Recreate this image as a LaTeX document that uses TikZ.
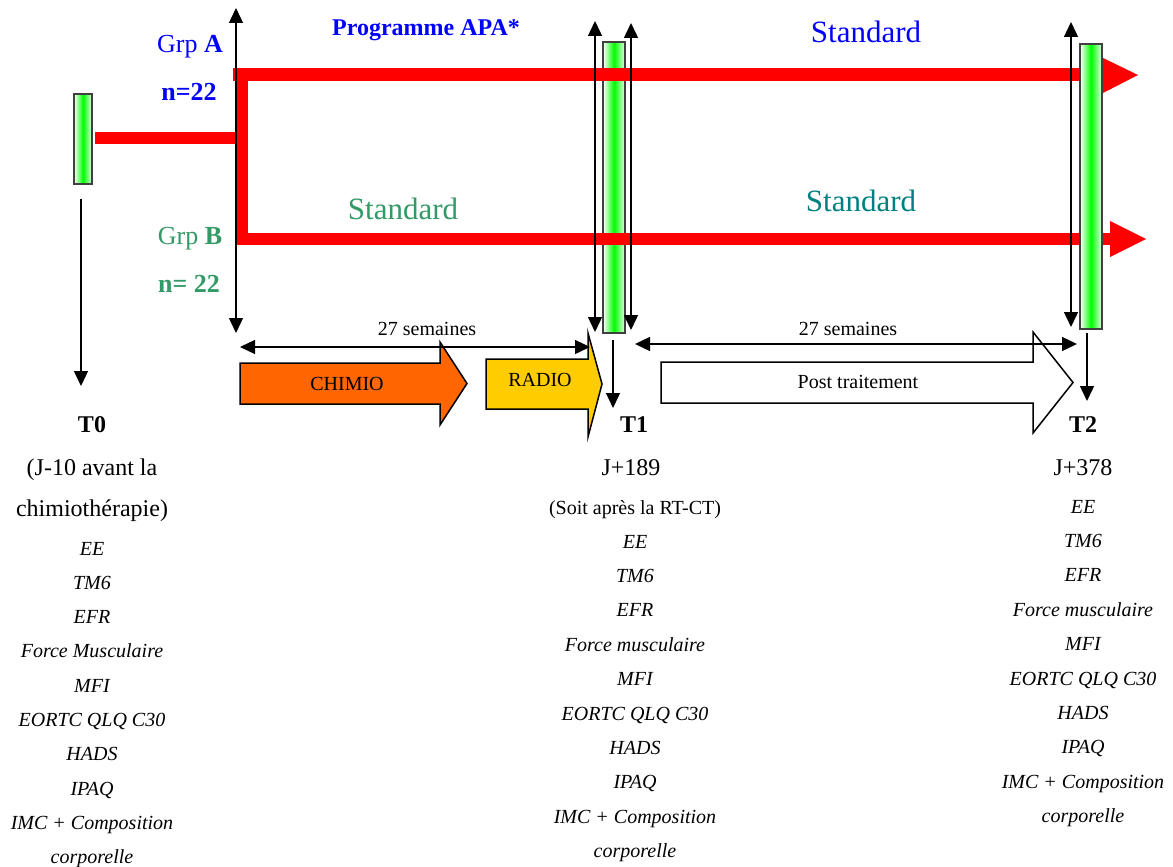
\documentclass[tikz,border=0pt]{standalone}
\usepackage{fontspec}
\setmainfont{Liberation Serif}
\usetikzlibrary{arrows.meta}
\definecolor{grpblue}{HTML}{0000FF}
\definecolor{grpgreen}{HTML}{339966}
\definecolor{tealc}{HTML}{008080}
\definecolor{chimio}{HTML}{FF6600}
\definecolor{radio}{HTML}{FFCC00}
\tikzset{
  every node/.style={inner sep=0pt, outer sep=0pt},
  tip/.tip={Triangle[length=15pt,width=14pt]},
  bar/.style={draw=black!75, line width=1.3pt, left color=white, right color=green!10, middle color=green},
  dbl/.style={line width=1.4pt, tip-tip},
  down/.style={line width=1.4pt, -tip},
  redln/.style={fill=red},
  blk/.style={draw=black, line width=1.5pt},
  item/.style={anchor=base, font=\fontsize{20}{24}\selectfont\itshape},
  head/.style={anchor=base, font=\fontsize{24}{28}\selectfont\bfseries},
  sub/.style={anchor=base, font=\fontsize{24}{28}\selectfont},
  small/.style={anchor=base, font=\fontsize{20}{24}\selectfont},
  std/.style={anchor=base, font=\fontsize{31}{36}\selectfont},
  grp/.style={anchor=base, font=\fontsize{26}{30}\selectfont},
}
\begin{document}
\begin{tikzpicture}[x=1pt,y=-1pt]
\useasboundingbox (0,0) rectangle (1173,867);
\fill[white] (0,0) rectangle (1173,867);

% T1 bar (under red lines)
\node[bar, minimum width=22pt, minimum height=291pt] (b1) at (614,187.5) {};

% red lines
\node[redln, minimum width=140pt, minimum height=12pt] (r0) at (165,138) {};
\fill[red] (235,68) rectangle (248,245);
\fill[red] (233,68.5) rectangle (1104,81.5);
\fill[red] (1103,58) -- (1138,75) -- (1103,93) -- cycle;
\fill[red] (235,233) rectangle (1111,245);
\fill[red] (1110,221) -- (1146,239) -- (1110,257) -- cycle;

% T0 and T2 bars
\node[bar, minimum width=18pt, minimum height=90pt] (b0) at (83,139) {};
\node[bar, minimum width=22pt, minimum height=285pt] (b2) at (1091,186.5) {};

% vertical axes
\coordinate (aT) at (236,8); \coordinate (aB) at (236,333);
\draw[dbl] (aT) -- (aB);
\coordinate (t1aT) at (595,21); \coordinate (t1aB) at (595,332);
\draw[dbl] (t1aT) -- (t1aB);
\coordinate (t1bT) at (631,23); \coordinate (t1bB) at (631,330);
\draw[dbl] (t1bT) -- (t1bB);
\coordinate (t2aT) at (1071,22); \coordinate (t2aB) at (1071,327);
\draw[dbl] (t2aT) -- (t2aB);

% down arrows
\coordinate (d0a) at (81,199); \coordinate (d0b) at (81,386);
\draw[down] (d0a) -- (d0b);
\coordinate (d1a) at (613,340); \coordinate (d1b) at (613,408);
\draw[down] (d1a) -- (d1b);
\coordinate (d2a) at (1087,333); \coordinate (d2b) at (1087,401);
\draw[down] (d2a) -- (d2b);

% block arrows
\draw[blk, fill=chimio] (240,363) -- (440,363) -- (440,342) -- (467,383.5) -- (440,425) -- (440,404) -- (240,404) -- cycle;
\node[small] (chimio) at (347,390) {CHIMIO};
\draw[blk, fill=radio] (486,359) -- (588,359) -- (588,333) -- (602,384) -- (588,437) -- (588,409) -- (486,409) -- cycle;
\node[small] (radio) at (540,386) {RADIO};
\draw[blk, fill=white] (661,362) -- (1033,362) -- (1033,332) -- (1073,382.5) -- (1033,433) -- (1033,403) -- (661,403) -- cycle;
\node[small] (post) at (858,388) {Post traitement};

% 27 semaines
\coordinate (s1a) at (240,347); \coordinate (s1b) at (590,347);
\draw[dbl, line width=1.3pt] (s1a) -- (s1b);
\node[small] (s1) at (427,335) {27 semaines};
\coordinate (s2a) at (635,344); \coordinate (s2b) at (1077,344);
\draw[dbl, line width=1.3pt] (s2a) -- (s2b);
\node[small] (s2) at (848,335) {27 semaines};

% top labels
\node[anchor=base, font=\fontsize{24}{28}\selectfont\bfseries, text=grpblue] (apa) at (426,36) {Programme APA*};
\node[std, text=grpblue] (stdA) at (866,43) {Standard};
\node[grp, text=grpblue] (grpA) at (190,53) {Grp \textbf{A}};
\node[grp, text=grpblue, font=\fontsize{26}{30}\selectfont\bfseries] (nA) at (189,100) {n=22};
\node[grp, text=grpgreen] (grpB) at (190,244) {Grp \textbf{B}};
\node[grp, text=grpgreen, font=\fontsize{26}{30}\selectfont\bfseries] (nB) at (189,292) {n= 22};
\node[std, text=grpgreen] (stdB1) at (403,219) {Standard};
\node[std, text=tealc] (stdB2) at (861,211) {Standard};

% T0 column
\node[head] (T0) at (92,432) {T0};
\node[sub] (T0a) at (92,475) {(J-10 avant la};
\node[sub] (T0b) at (92,516) {chimiothérapie)};
\foreach \t [count=\i from 0] in {EE,TM6,EFR,Force Musculaire,MFI,EORTC QLQ C30,HADS,IPAQ,IMC + Composition,corporelle}
  \node[item] (c0-\i) at (92,555+34.3*\i) {\t};

% T1 column
\node[head] (T1) at (634,432) {T1};
\node[sub] (T1a) at (631,475) {J+189};
\node[small] (T1b) at (635,514) {(Soit après la RT-CT)};
\foreach \t [count=\i from 0] in {EE,TM6,EFR,Force musculaire,MFI,EORTC QLQ C30,HADS,IPAQ,IMC + Composition,corporelle}
  \node[item] (c1-\i) at (635,548+34.4*\i) {\t};

% T2 column
\node[head] (T2) at (1083,432) {T2};
\node[sub] (T2a) at (1083,475) {J+378};
\foreach \t [count=\i from 0] in {EE,TM6,EFR,Force musculaire,MFI,EORTC QLQ C30,HADS,IPAQ,IMC + Composition,corporelle}
  \node[item] (c2-\i) at (1083,513+34.4*\i) {\t};
\end{tikzpicture}
\end{document}
